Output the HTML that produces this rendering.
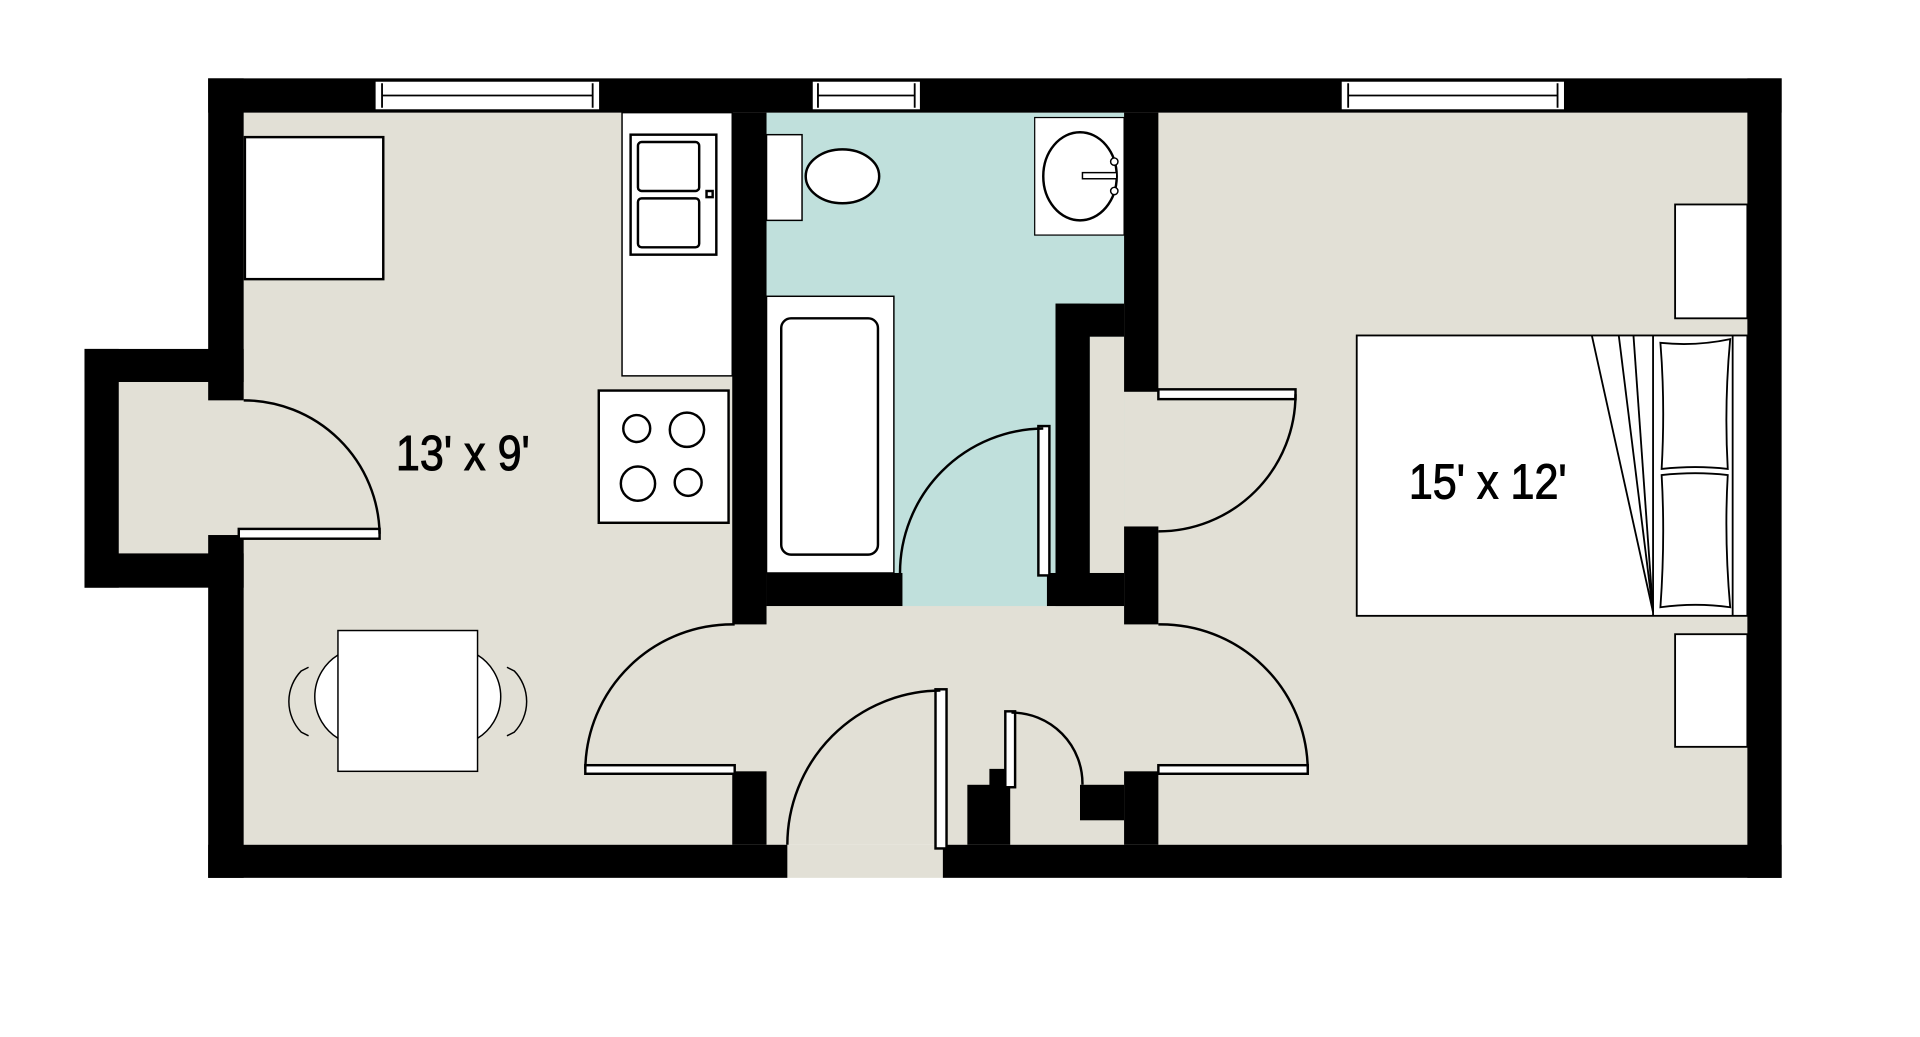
<!DOCTYPE html>
<html><head><meta charset="utf-8"><style>html,body{margin:0;padding:0;background:#fff}svg{display:block}</style></head>
<body>
<svg width="1920" height="1037" viewBox="0 0 1568 847" preserveAspectRatio="none" xmlns="http://www.w3.org/2000/svg">
<rect width="1568" height="847" fill="#fff"/>
<rect x="97" y="312" width="110" height="140" fill="#e2e0d6"/>
<rect x="199" y="92" width="1228" height="598" fill="#e2e0d6"/>
<rect x="626" y="92" width="292" height="403" fill="#c0e0dc"/>
<rect x="890" y="275" width="28" height="193" fill="#e2e0d6"/>
<rect x="643" y="690" width="127" height="27" fill="#e2e0d6"/>
<g fill="#000">
<rect x="170" y="64" width="1285" height="28"/>
<rect x="1427" y="64" width="28" height="653"/>
<rect x="170" y="690" width="473" height="27"/>
<rect x="770" y="690" width="685" height="27"/>
<rect x="170" y="64" width="29" height="263"/>
<rect x="170" y="437" width="29" height="280"/>
<rect x="69" y="285" width="130" height="27"/>
<rect x="69" y="452" width="130" height="28"/>
<rect x="69" y="285" width="28" height="195"/>
<rect x="598" y="92" width="28" height="418"/>
<rect x="598" y="630" width="28" height="60"/>
<rect x="626" y="468" width="111" height="27"/>
<rect x="855" y="468" width="63" height="27"/>
<rect x="918" y="92" width="28" height="228"/>
<rect x="918" y="430" width="28" height="80"/>
<rect x="862" y="248" width="56" height="27"/>
<rect x="862" y="248" width="28" height="247"/>
<rect x="918" y="630" width="28" height="60"/>
<rect x="790" y="641" width="35" height="49"/>
<rect x="808" y="628" width="14" height="20"/>
<rect x="882" y="641" width="36" height="29"/>
</g>
<g fill="#fff" stroke="#000" stroke-width="1.5">
<rect x="306" y="66" width="184" height="24"/><line x1="312" y1="78" x2="484" y2="78"/><line x1="312" y1="68" x2="312" y2="88"/><line x1="484" y1="68" x2="484" y2="88"/>
<rect x="663" y="66" width="89" height="24"/><line x1="668" y1="78" x2="747" y2="78"/><line x1="668" y1="68" x2="668" y2="88"/><line x1="747" y1="68" x2="747" y2="88"/>
<rect x="1095" y="66" width="183" height="24"/><line x1="1101" y1="78" x2="1272" y2="78"/><line x1="1101" y1="68" x2="1101" y2="88"/><line x1="1272" y1="68" x2="1272" y2="88"/>
</g>
<g fill="none" stroke="#000" stroke-width="2">
<rect x="195" y="432" width="115" height="8" fill="#fff"/>
<path d="M310,436 A111,111 0 0 0 199,327"/>
<rect x="848" y="348" width="9" height="122" fill="#fff"/>
<path d="M852,350 A118,118 0 0 0 735,468"/>
<rect x="946" y="318" width="112" height="8" fill="#fff"/>
<path d="M1058,322 A112,112 0 0 1 946,434"/>
<rect x="478" y="625" width="122" height="7" fill="#fff"/>
<path d="M478,628 A120,120 0 0 1 600,510"/>
<rect x="946" y="625" width="122" height="7" fill="#fff"/>
<path d="M946,510 A120,120 0 0 1 1068,628"/>
<rect x="764" y="563" width="9" height="130" fill="#fff"/>
<path d="M643,690 A126,126 0 0 1 768,564"/>
<rect x="821" y="581" width="8" height="62" fill="#fff"/>
<path d="M826,582 A58,58 0 0 1 884,641"/>
</g>
<g fill="#fff" stroke="#000" stroke-width="2">
<rect x="200" y="112" width="113" height="116"/>
<rect x="508" y="92" width="90" height="215" stroke-width="1.2"/>
<rect x="515" y="110" width="70" height="98"/>
<rect x="521" y="116" width="50" height="40" rx="3"/>
<rect x="521" y="162" width="50" height="40" rx="3"/>
<rect x="577" y="156" width="5" height="5"/>
<rect x="489" y="319" width="106" height="108"/>
<circle cx="520" cy="350" r="11"/><circle cx="561" cy="351" r="14"/>
<circle cx="521" cy="395" r="14"/><circle cx="562" cy="394" r="11"/>
<path d="M276,535 A40,40 0 0 0 276,603" stroke-width="1.2"/>
<path d="M408,535 A40,40 0 0 1 408,603" transform="translate(-18,0)" stroke-width="1.2"/>
<path d="M252,545 L246,548 A36,36 0 0 0 246,598 L252,601" fill="none" stroke-width="1.2"/>
<path d="M414,545 L420,548 A36,36 0 0 1 420,598 L414,601" fill="none" stroke-width="1.2"/>
<rect x="276" y="515" width="114" height="115" stroke-width="1.2"/>
</g>
<g fill="#fff" stroke="#000" stroke-width="2">
<rect x="626" y="110" width="29" height="70" stroke-width="1.2"/>
<ellipse cx="688" cy="144" rx="30" ry="22"/>
<rect x="626" y="242" width="104" height="226" stroke-width="1.2"/>
<rect x="638" y="260" width="79" height="193" rx="8"/>
<rect x="845" y="96" width="73" height="96" stroke-width="1"/>
<ellipse cx="882" cy="144" rx="30" ry="36"/>
<rect x="884" y="141" width="28" height="5" stroke-width="1.2"/>
<circle cx="910" cy="132" r="3" stroke-width="1.2"/><circle cx="910" cy="156" r="3" stroke-width="1.2"/>
</g>
<g fill="#fff" stroke="#000" stroke-width="1.5">
<rect x="1368" y="167" width="59" height="93"/>
<rect x="1368" y="518" width="59" height="92"/>
<rect x="1108" y="274" width="319" height="229"/>
<line x1="1350" y1="274" x2="1350" y2="503"/>
<line x1="1415" y1="274" x2="1415" y2="503"/>
<line x1="1300" y1="274" x2="1350" y2="500"/>
<line x1="1322" y1="274" x2="1350" y2="500"/>
<line x1="1334" y1="274" x2="1350" y2="500"/>
<path d="M1356,280 Q1385,283 1413,277 Q1408,330 1411,383 Q1385,380 1357,383 Q1360,330 1356,280Z"/>
<path d="M1357,388 Q1385,385 1411,388 Q1408,440 1413,496 Q1385,492 1356,496 Q1360,440 1357,388Z"/>
</g>
<g font-family="'Liberation Sans Narrow','Liberation Sans',sans-serif" font-size="40" fill="#000" stroke="#000" stroke-width="0.8">
<text x="378" y="384" text-anchor="middle" transform="translate(378,0) scale(0.88,1) translate(-378,0)">13' x 9'</text>
<text x="1215" y="407" text-anchor="middle" transform="translate(1215,0) scale(0.88,1) translate(-1215,0)">15' x 12'</text>
</g>
</svg>
</body></html>
